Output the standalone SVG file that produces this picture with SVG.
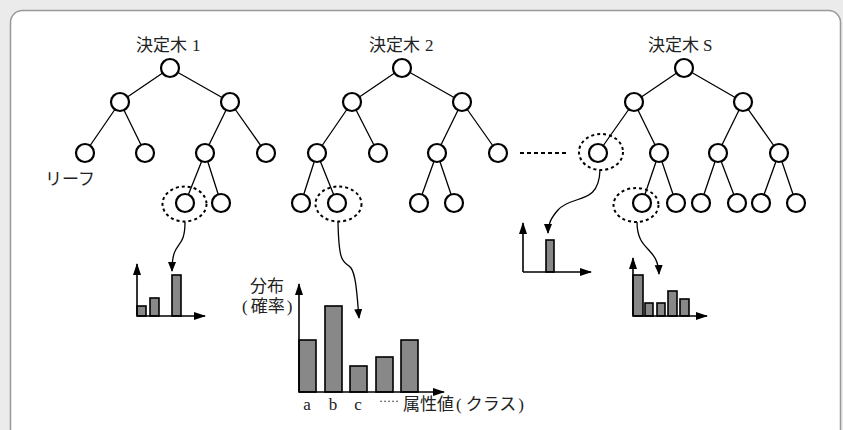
<svg xmlns="http://www.w3.org/2000/svg" width="843" height="430" viewBox="0 0 843 430">
  <style>
    .txt { font-family: "Liberation Serif", "Noto Sans CJK JP", serif; font-size: 17px; fill: #222; }
    .dots { font-family: "Liberation Serif", serif; font-size: 12px; fill: #222; }
    .edge { stroke: #000; stroke-width: 1.3; fill: none; }
    .node { fill: #fff; stroke: #000; stroke-width: 2.2; }
    .sel { fill: none; stroke: #000; stroke-width: 2; stroke-dasharray: 3 3; }
    .axis { stroke: #000; stroke-width: 1.6; fill: none; }
    .bar { fill: #888; stroke: #000; stroke-width: 1.6; }
    .link { stroke: #000; stroke-width: 1.3; fill: none; marker-end: url(#head); }
  </style>
  <defs>
    <marker id="head" markerWidth="10" markerHeight="10" refX="9" refY="5" orient="auto" markerUnits="userSpaceOnUse">
      <path d="M0,1 L10,5 L0,9 Z" fill="#000"/>
    </marker>
    <marker id="axhead" markerWidth="12" markerHeight="10" refX="11" refY="5" orient="auto" markerUnits="userSpaceOnUse">
      <path d="M0,1 L12,5 L0,9 Z" fill="#000"/>
    </marker>
  </defs>

  <!-- page background and frame -->
  <rect x="0" y="0" width="843" height="430" fill="#ebebeb"/>
  <rect x="10.5" y="10.5" width="830" height="440" rx="12" ry="12" fill="#fff" stroke="#999" stroke-width="1.5"/>

  <!-- titles -->
  <text class="txt" x="136" y="51">決定木<tspan dx="5">1</tspan></text>
  <text class="txt" x="369" y="51">決定木<tspan dx="5">2</tspan></text>
  <text class="txt" x="648" y="51">決定木<tspan dx="4">S</tspan></text>
  <text class="txt" x="45" y="185">リーフ</text>

  <!-- tree edges -->
  <g id="connectors">
    <!-- tree 1 -->
    <path class="edge" d="M170,68 L120,102 M170,68 L230,102 M120,102 L85,153 M120,102 L145,153 M230,102 L205,153 M230,102 L266,153 M205,153 L185,203 M205,153 L221,203"/>
    <!-- tree 2 -->
    <path class="edge" d="M402,68 L352,102 M402,68 L462,102 M352,102 L317,153 M352,102 L378,153 M462,102 L437,153 M462,102 L498,153 M317,153 L301,203 M317,153 L337,203 M437,153 L419,203 M437,153 L454,203"/>
    <!-- tree S -->
    <path class="edge" d="M684,68 L634,102 M684,68 L743,102 M634,102 L598,153 M634,102 L659,153 M743,102 L718,153 M743,102 L779,153 M659,153 L642,203 M659,153 L676,203 M718,153 L701,203 M718,153 L737,203 M779,153 L761,203 M779,153 L796,203"/>
    <!-- ellipsis between trees -->
    <line x1="520" y1="153" x2="567" y2="153" stroke="#000" stroke-width="2" stroke-dasharray="4 3"/>
    <!-- leaf-to-distribution arrows -->
    <path class="link" d="M185,222 C185,252 172,238 172,271"/>
    <path class="link" d="M338,222 C339,268 344,260 351,268 C356,275 357,295 359,318"/>
    <path class="link" d="M600,170 C599,206 572,194 558,210 C551,218 548,224 548,233"/>
    <path class="link" d="M637,222 C637,252 658,246 659,274"/>
  </g>

  <!-- tree 1 nodes -->
  <g id="tree1">
    <circle class="node" cx="170" cy="68" r="9"/>
    <circle class="node" cx="120" cy="102" r="9"/>
    <circle class="node" cx="230" cy="102" r="9"/>
    <circle class="node" cx="85" cy="153" r="9"/>
    <circle class="node" cx="145" cy="153" r="9"/>
    <circle class="node" cx="205" cy="153" r="9"/>
    <circle class="node" cx="266" cy="153" r="9"/>
    <circle class="node" cx="185" cy="203" r="9"/>
    <circle class="node" cx="221" cy="203" r="9"/>
    <ellipse class="sel" cx="184.5" cy="204" rx="22" ry="17.5"/>
  </g>

  <!-- tree 2 nodes -->
  <g id="tree2">
    <circle class="node" cx="402" cy="68" r="9"/>
    <circle class="node" cx="352" cy="102" r="9"/>
    <circle class="node" cx="462" cy="102" r="9"/>
    <circle class="node" cx="317" cy="153" r="9"/>
    <circle class="node" cx="378" cy="153" r="9"/>
    <circle class="node" cx="437" cy="153" r="9"/>
    <circle class="node" cx="498" cy="153" r="9"/>
    <circle class="node" cx="301" cy="203" r="9"/>
    <circle class="node" cx="337" cy="203" r="9"/>
    <circle class="node" cx="419" cy="203" r="9"/>
    <circle class="node" cx="454" cy="203" r="9"/>
    <ellipse class="sel" cx="338.5" cy="204" rx="23" ry="17.5"/>
  </g>

  <!-- tree S nodes -->
  <g id="treeS">
    <circle class="node" cx="684" cy="68" r="9"/>
    <circle class="node" cx="634" cy="102" r="9"/>
    <circle class="node" cx="743" cy="102" r="9"/>
    <circle class="node" cx="598" cy="153" r="9"/>
    <circle class="node" cx="659" cy="153" r="9"/>
    <circle class="node" cx="718" cy="153" r="9"/>
    <circle class="node" cx="779" cy="153" r="9"/>
    <circle class="node" cx="642" cy="203" r="9"/>
    <circle class="node" cx="676" cy="203" r="9"/>
    <circle class="node" cx="701" cy="203" r="9"/>
    <circle class="node" cx="737" cy="203" r="9"/>
    <circle class="node" cx="761" cy="203" r="9"/>
    <circle class="node" cx="796" cy="203" r="9"/>
    <ellipse class="sel" cx="601" cy="152" rx="22" ry="18"/>
    <ellipse class="sel" cx="636" cy="205" rx="22.5" ry="17"/>
  </g>

  <!-- distribution of tree 1 leaf -->
  <g id="hist1">
    <rect class="bar" x="137" y="306" width="9" height="10"/>
    <rect class="bar" x="150" y="298" width="9" height="18"/>
    <rect class="bar" x="172" y="275" width="9" height="41"/>
    <path class="axis" d="M137,316 L137,264" marker-end="url(#axhead)"/>
    <path class="axis" d="M137,316 L205,316" marker-end="url(#axhead)"/>
  </g>

  <!-- distribution of tree 2 leaf (labelled) -->
  <g id="hist2">
    <rect class="bar" x="299" y="340" width="17" height="52"/>
    <rect class="bar" x="325" y="306" width="17" height="86"/>
    <rect class="bar" x="350" y="366" width="17" height="26"/>
    <rect class="bar" x="376" y="357" width="17" height="35"/>
    <rect class="bar" x="401" y="340" width="17" height="52"/>
    <path class="axis" d="M299,392 L299,284" marker-end="url(#axhead)"/>
    <path class="axis" d="M299,392 L444,392" marker-end="url(#axhead)"/>
    <text class="txt" x="250" y="292">分布</text>
    <text class="txt" x="242" y="312">(<tspan dx="3">確率</tspan><tspan dx="2">)</tspan></text>
    <text class="txt" x="307" y="410" text-anchor="middle">a</text>
    <text class="txt" x="333" y="410" text-anchor="middle">b</text>
    <text class="txt" x="358" y="410" text-anchor="middle">c</text>
    <text class="dots" x="379" y="405">·····</text>
    <text class="txt" x="403" y="410">属性値<tspan dx="2">(</tspan><tspan dx="4">クラス</tspan><tspan dx="2">)</tspan></text>
  </g>

  <!-- distribution of tree S first leaf -->
  <g id="histS1">
    <rect class="bar" x="546" y="240" width="8" height="32"/>
    <path class="axis" d="M523,272 L523,223" marker-end="url(#axhead)"/>
    <path class="axis" d="M523,272 L591,272" marker-end="url(#axhead)"/>
  </g>

  <!-- distribution of tree S second leaf -->
  <g id="histS2">
    <rect class="bar" x="633" y="275" width="10" height="41"/>
    <rect class="bar" x="645" y="303" width="8" height="13"/>
    <rect class="bar" x="657" y="303" width="8" height="13"/>
    <rect class="bar" x="668" y="291" width="9" height="25"/>
    <rect class="bar" x="680" y="299" width="9" height="17"/>
    <path class="axis" d="M633,316 L633,258" marker-end="url(#axhead)"/>
    <path class="axis" d="M633,316 L707,316" marker-end="url(#axhead)"/>
  </g>
</svg>
